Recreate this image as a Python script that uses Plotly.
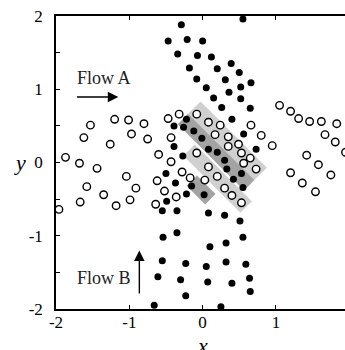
import math
import plotly.graph_objects as go

# Flow B particles (filled)
flow_b_x = [-0.29, -0.47, -0.21, 0.00, -0.34, -0.07, 0.12, 0.39, -0.18, 0.20, 0.50, -0.08, 0.31, 0.05,
            0.36, 0.15, 0.52, 0.26, 0.55, 0.52, 0.66, 0.65, 0.40,
            -0.22, -0.39, -0.26, -0.12, -0.01, -0.39, 0.08, 0.20, 0.56, 0.73, 0.30, -0.27, 0.33, 0.53,
            0.42, 0.55, -0.50, -0.37, -0.15, 0.02, -0.22, -0.49, -0.55, -0.35, 0.08, 0.30, 0.51,
            -0.54, -0.35, 0.10, 0.32, -0.55, -0.23, 0.05, 0.32, -0.61, -0.30, 0.07, 0.40, -0.23, -0.66,
            0.25, 0.55, 0.59, 0.64, 0.65]
flow_b_y = [1.88, 1.66, 1.68, 1.66, 1.48, 1.46, 1.44, 1.35, 1.29, 1.28, 1.23, 1.14, 1.13, 1.02,
            0.96, 0.88, 0.87, 0.75, 1.96, 1.03, 1.09, 0.74, 0.59,
            0.59, 0.50, 0.48, 0.43, 0.33, 0.22, 0.18, 0.14, 0.39, 0.18, 0.03, 0.09, -0.09, -0.15,
            -0.23, -0.34, -0.15, -0.28, -0.32, -0.44, -0.43, -0.53, -0.66, -0.66, -0.69, -0.72, -0.80,
            -1.02, -0.96, -1.15, -1.10, -1.34, -1.38, -1.42, -1.36, -1.56, -1.60, -1.63, -1.65, -1.82, -1.95,
            -1.97, -1.02, -1.39, -1.58, -1.76]

# Flow A particles (open)
flow_a_x = [-1.53, -1.20, -1.62, -1.26, -1.87, -1.68, -1.44, -1.58, -1.35, -1.67, -1.96, -1.18,
            -1.01, -0.80, -0.97, -0.75, -0.47, -0.32, -0.08, -0.43, -0.60, -0.43, -1.04, -0.91, -0.99,
            -0.62, -0.52, -0.64, -0.36, -0.28, -0.17, -0.08, 0.03, 0.08, 0.24, 0.17, 0.35, 0.35,
            0.08, 0.20, 0.30, 0.40, 0.66, 0.80, 0.95, 0.49, 0.53, 0.65, 0.56, 0.73, 0.53,
            1.05, 1.20, 1.31, 1.46, 1.62, 1.83, 1.67, 1.81, 1.95, 1.42, 1.58, 1.20, 1.75, 1.36, 1.54]
flow_a_y = [0.51, 0.59, 0.34, 0.25, 0.07, -0.01, -0.08, -0.33, -0.44, -0.54, -0.64, -0.59,
            0.58, 0.53, 0.39, 0.32, 0.60, 0.66, 0.66, 0.34, 0.11, 0.01, -0.19, -0.35, -0.51,
            -0.25, -0.39, -0.57, -0.47, -0.13, -0.21, 0.13, -0.24, 0.55, 0.51, 0.38, 0.35, 0.22,
            -0.06, -0.19, -0.35, -0.45, 0.51, 0.37, 0.23, 0.25, 0.13, 0.06, -0.01, -0.09, -0.55,
            0.78, 0.70, 0.60, 0.56, 0.56, 0.53, 0.38, 0.28, 0.14, 0.10, -0.03, -0.14, -0.17, -0.28, -0.40]

# shaded bands in rotated coordinates u=(x-y)/sqrt2, v=(x+y)/sqrt2
band_u0 = [-0.61, -0.61, -0.25, 0.07]
band_u1 = [0.67, 0.67, 0.85, 0.43]
band_v0 = [0.33, 0.13, -0.12, -0.38]
band_v1 = [0.57, 0.33, 0.10, -0.18]
band_color = ["#d0d0d0", "#a3a3a3", "#d0d0d0", "#a3a3a3"]

x_tick_vals = [-2, -1, 0, 1]
x_tick_text = ["-2", "-1", "0", "1"]
y_tick_vals = [-2, -1, 0, 1, 2]
y_tick_text = ["-2", "-1", "0", "1", "2"]
y_minor_vals = [-1.5, -0.5, 0.5, 1.5]

FONT = "Liberation Serif, Times New Roman, Times, serif"
W, H = 345, 350
ML, MT, MB = 56, 16, 41
unit = 73.3
xmax = -2 + (W - ML) / unit
PW, PH = W - ML, H - MT - MB

s2 = math.sqrt(2)


def to_xy(u, v):
    return (u + v) / s2, (v - u) / s2


shapes = []
for u0, u1, v0, v1, c in zip(band_u0, band_u1, band_v0, band_v1, band_color):
    pts = [to_xy(u0, v0), to_xy(u1, v0), to_xy(u1, v1), to_xy(u0, v1)]
    path = "M " + " L ".join(f"{px:.4f},{py:.4f}" for px, py in pts) + " Z"
    shapes.append(dict(type="path", path=path, xref="x", yref="y", fillcolor=c,
                       line=dict(width=0), layer="below"))

fig = go.Figure()
fig.add_trace(go.Scatter(x=flow_a_x, y=flow_a_y, mode="markers",
                         marker=dict(size=7.5, color="white", line=dict(color="black", width=1.4)),
                         showlegend=False, cliponaxis=True))
fig.add_trace(go.Scatter(x=flow_b_x, y=flow_b_y, mode="markers",
                         marker=dict(size=7, color="black", line=dict(width=0)),
                         showlegend=False, cliponaxis=True))

annotations = [
    dict(x=-1.34, y=1.15, xref="x", yref="y", text="Flow A", showarrow=False,
         font=dict(family=FONT, size=18, color="#222")),
    dict(x=-1.34, y=-1.58, xref="x", yref="y", text="Flow B", showarrow=False,
         font=dict(family=FONT, size=18, color="#222")),
    dict(x=-1.15, y=0.894, ax=-1.735, ay=0.894, xref="x", yref="y", axref="x", ayref="y",
         showarrow=True, arrowhead=2, arrowsize=1.5, arrowwidth=1.4, arrowcolor="black", text=""),
    dict(x=-0.863, y=-1.20, ax=-0.863, ay=-1.81, xref="x", yref="y", axref="x", ayref="y",
         showarrow=True, arrowhead=2, arrowsize=1.5, arrowwidth=1.4, arrowcolor="black", text=""),
    # partially visible tick label at x=2 (axis continues beyond the picture)
    dict(x=(349 - ML) / PW, y=0, xref="paper", yref="paper", xanchor="center", yanchor="top",
         yshift=-2, xshift=4, text="2", showarrow=False, font=dict(family=FONT, size=17, color="black")),
    # axis titles
    dict(x=(202.3 - ML) / PW, y=(309 - 345) / PH, xref="paper", yref="paper",
         xanchor="center", yanchor="middle", text="<i>x</i>", showarrow=False,
         font=dict(family=FONT, size=22, color="black")),
    dict(x=(20 - ML) / PW, y=0.5, xref="paper", yref="paper",
         xanchor="center", yanchor="middle", text="<i>y</i>", showarrow=False,
         font=dict(family=FONT, size=22, color="black")),
]

fig.update_layout(
    width=W, height=H,
    margin=dict(l=ML, r=0, t=MT, b=MB, pad=0),
    paper_bgcolor="white", plot_bgcolor="white",
    shapes=shapes, annotations=annotations,
    font=dict(family=FONT, size=17, color="black"),
    xaxis=dict(range=[-2, xmax], showgrid=False, zeroline=False, showline=True,
               linecolor="black", linewidth=1.5, mirror="ticks",
               tickmode="array", tickvals=x_tick_vals, ticktext=x_tick_text,
               ticks="inside", ticklen=4, tickcolor="black", tickwidth=1,
               ticklabelstandoff=-3,
               tickfont=dict(family=FONT, size=17, color="black"),
               automargin=False, fixedrange=True),
    yaxis=dict(range=[-2, 2], showgrid=False, zeroline=False, showline=True,
               linecolor="black", linewidth=1.5, mirror=False,
               tickmode="array", tickvals=y_tick_vals, ticktext=y_tick_text,
               ticks="inside", ticklen=4, tickcolor="black", tickwidth=1,
               minor=dict(tickmode="array", tickvals=y_minor_vals, ticks="inside", ticklen=4,
                          tickcolor="black", tickwidth=1),
               ticklabelstandoff=8,
               tickfont=dict(family=FONT, size=17, color="black"),
               automargin=False, fixedrange=True),
)

fig.write_html("out.html")
